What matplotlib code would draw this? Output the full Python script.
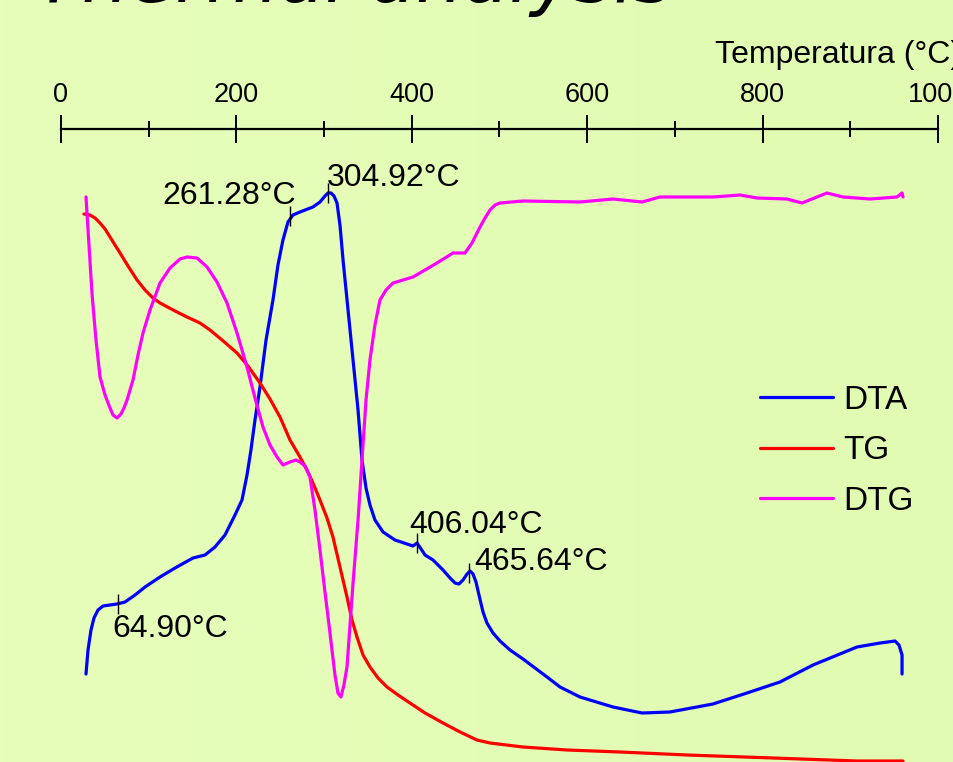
import numpy as np
import matplotlib
matplotlib.use("Agg")
import matplotlib.pyplot as plt

plt.rcParams['font.family'] = ['Liberation Sans', 'DejaVu Sans']

# temperatura (°C) y señal (unidades arbitrarias)
dta_t = [28.5, 30.8, 34.2, 37.6, 42.2, 47.9, 55.9, 63.9, 73.0, 84.4, 95.8, 112.9,
         130.0, 150.5, 164.2, 175.6, 187.0, 198.4, 206.4, 212.1, 216.6, 221.2, 226.9,
         233.8, 241.7, 247.4, 253.1, 258.8, 264.5, 272.5, 287.3, 295.3, 301.0, 304.4,
         307.9, 311.3, 314.7, 318.1, 321.6, 327.3, 333.0, 338.7, 343.2, 347.8, 352.3,
         358.0, 367.2, 380.8, 401.4, 406.0, 415.1, 424.2, 435.6, 443.6, 449.3, 453.8,
         458.4, 463.0, 466.4, 469.8, 473.2, 476.6, 481.2, 485.7, 492.6, 500.6, 512.0,
         526.8, 554.2, 569.0, 591.8, 629.4, 662.5, 694.4, 743.4, 782.2, 819.8, 857.5,
         907.6, 933.9, 951.0, 955.5, 959.0, 959.0]
dta_y = [88, 112, 132, 144, 152, 156, 157, 158, 160, 167, 175, 185,
         194, 204, 207, 215, 227, 247, 262, 287, 312, 342, 375,
         422, 462, 497, 522, 540, 547, 550, 555, 560, 566, 569,
         569, 566, 559, 537, 502, 452, 402, 352, 302, 274, 257,
         242, 230, 222, 216, 219, 207, 202, 192, 184, 179, 178,
         182, 188, 191, 188, 180, 167, 150, 139, 129, 121, 112,
         103, 85, 75, 65, 55, 49, 50, 58, 69, 80, 97,
         115, 119, 121, 117, 107, 88]

tg_t = [26.2, 33.1, 38.8, 44.5, 50.2, 55.9, 61.6, 67.3, 76.4, 86.7, 95.8, 104.9,
        112.9, 130.0, 143.7, 158.5, 169.9, 183.6, 200.7, 213.2, 226.9, 238.3, 249.7,
        261.1, 272.5, 280.5, 287.3, 295.3, 303.3, 310.1, 318.1, 326.1, 331.8, 337.5,
        344.4, 352.3, 361.5, 371.7, 384.3, 397.9, 415.1, 435.6, 455.0, 474.3, 489.2,
        526.8, 577.0, 637.4, 713.8, 811.9, 907.6, 960.1]
tg_y = [548, 547, 544, 539, 533, 525, 517, 509, 496, 482, 472, 464,
        459, 451, 445, 439, 432, 422, 409, 396, 379, 363, 345,
        322, 305, 292, 279, 262, 244, 225, 195, 165, 142, 125,
        107, 95, 84, 75, 67, 59, 49, 39, 30, 22, 19,
        15, 12, 10, 7, 4, 1, 1]

dtg_t = [28.5, 31.9, 35.3, 39.9, 44.5, 50.2, 55.9, 59.3, 63.9, 68.4, 71.8, 75.3,
         82.1, 87.8, 93.5, 101.5, 112.9, 124.3, 135.7, 143.7, 155.1, 166.5, 177.9,
         189.3, 200.7, 212.1, 221.2, 230.3, 238.3, 246.3, 253.1, 261.1, 268.0, 272.5,
         278.2, 283.9, 289.6, 295.3, 301.0, 306.7, 312.4, 315.8, 319.2, 322.6, 326.1,
         333.0, 338.7, 343.2, 347.8, 352.3, 358.0, 363.7, 370.6, 378.6, 401.4, 428.7,
         447.0, 460.7, 468.6, 477.8, 483.5, 489.2, 494.9, 500.6, 526.8, 591.8, 629.4,
         662.5, 683.0, 743.4, 774.2, 793.6, 827.8, 844.9, 873.4, 891.7, 922.5, 953.2,
         959.0, 960.1]
dtg_y = [565, 517, 469, 422, 385, 367, 354, 347, 344, 348, 354, 362,
         382, 407, 429, 452, 479, 494, 503, 505, 504, 495, 480,
         459, 429, 395, 364, 335, 317, 305, 297, 300, 302, 300,
         296, 285, 252, 212, 170, 129, 87, 69, 65, 77, 95,
         179, 242, 302, 362, 402, 437, 462, 472, 479, 485, 499,
         509, 509, 519, 535, 544, 552, 557, 559, 561, 560, 563,
         560, 565, 565, 567, 564, 563, 559, 569, 565, 563, 565,
         569, 565]

peaks_t = [64.90, 261.28, 304.92, 406.04, 465.64]
peaks_y = [158, 546, 569, 219, 189]
peak_labels = ['64.90°C', '261.28°C', '304.92°C', '406.04°C', '465.64°C']

W, H = 954, 762
fig = plt.figure(figsize=(W / 100, H / 100), dpi=100)

# fondo degradado
bg = fig.add_axes([0, 0, 1, 1], zorder=-1)
grad = np.linspace(0, 1, 256).reshape(1, -1)
cmap = matplotlib.colors.LinearSegmentedColormap.from_list('bg', ['#e6feba', '#e1fbb2'])
bg.imshow(grad, aspect='auto', cmap=cmap, extent=[0, 1, 0, 1])
bg.axis('off')

fig.text(674 / W, 1 - 2 / H, 'Thermal analysis', ha='right', va='baseline',
         fontsize=54, fontstyle='italic', family='DejaVu Sans')

ax = fig.add_axes([61 / W, 0, 877 / W, (H - 129) / H])
ax.patch.set_alpha(0)
ax.set_xlim(0, 1000)
ax.set_ylim(0, H - 129)
for s in ['left', 'right', 'bottom']:
    ax.spines[s].set_visible(False)
ax.spines['top'].set_linewidth(1.6)
ax.set_yticks([])
ax.xaxis.tick_top()
ax.set_xticks(range(0, 1001, 200))
ax.set_xticks(range(100, 1000, 200), minor=True)
ax.tick_params(axis='x', which='major', direction='inout', length=19.5, width=1.4,
               labelsize=19.5, pad=5.5)
ax.tick_params(axis='x', which='minor', direction='inout', length=11, width=1.4)

fig.text(715 / W, 1 - 63 / H, 'Temperatura (°C)', ha='left', va='baseline', fontsize=23)

kw = dict(lw=2.3, clip_on=False, solid_joinstyle='round', solid_capstyle='round')
ax.plot(dta_t, dta_y, color='#0000ff', label='DTA', **kw)
ax.plot(tg_t, tg_y, color='#ff0000', label='TG', **kw)
ax.plot(dtg_t, dtg_y, color='#ff00ff', label='DTG', **kw)

ax.plot(peaks_t, peaks_y, ls='none', marker='|', color='black', ms=14, mew=1.0)
offsets = [(-4.3, -24, 'left'), (4.5, 8.3, 'right'), (-1.4, 5.4, 'left'),
           (-5.5, 7.2, 'left'), (3.6, 2.2, 'left')]
for t, y, lab, (dx, dy, ha) in zip(peaks_t, peaks_y, peak_labels, offsets):
    ax.annotate(lab, (t, y), xytext=(dx, dy), textcoords='offset points',
                ha=ha, va='baseline', fontsize=23)

ax.legend(loc='upper left', bbox_to_anchor=(760 / W, 1 - 385 / H),
          bbox_transform=fig.transFigure, frameon=False, fontsize=24,
          handlelength=2.2, handletextpad=0.3, labelspacing=0.58,
          borderpad=0, borderaxespad=0)

fig.savefig('out.png', dpi=100)
